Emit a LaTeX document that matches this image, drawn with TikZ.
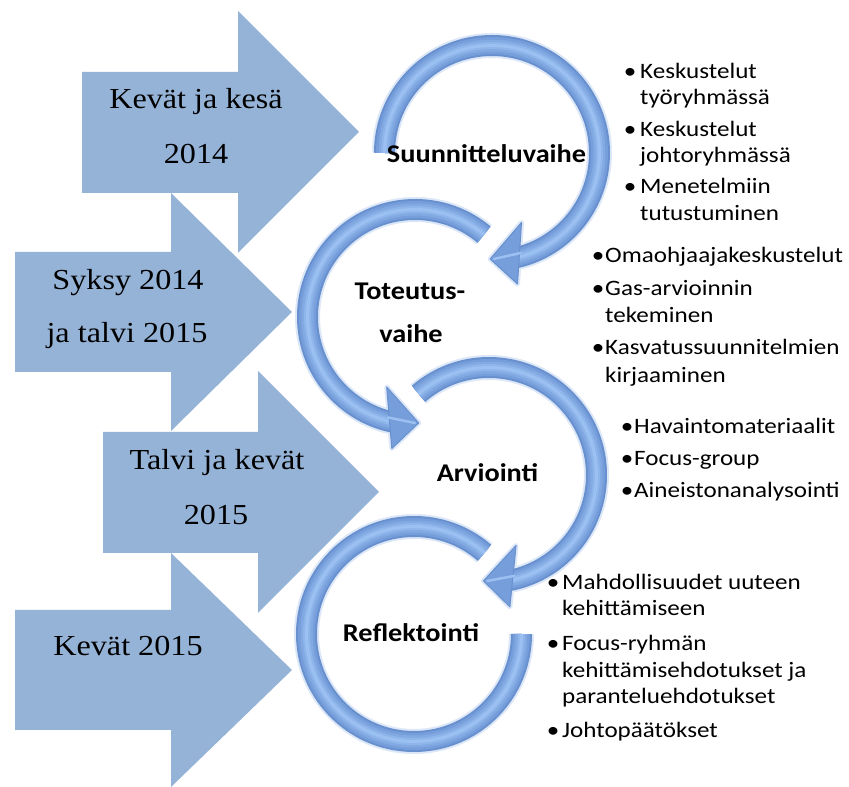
\documentclass[tikz,border=0pt]{standalone}
\usepackage{fontspec}
\newfontfamily\tnrfont{Liberation Serif}[FakeStretch=1.11]
\newfontfamily\calfont{Carlito}[FakeStretch=1.14]
\newfontfamily\calbfont{Carlito}[FakeStretch=1.11]
\definecolor{blkblue}{HTML}{95B3D7}
\definecolor{ringglow}{HTML}{DCE7F7}
\definecolor{ringedge}{HTML}{6890CF}
\definecolor{ringmidA}{HTML}{769EDA}
\definecolor{ringmid}{HTML}{82A9E2}
\definecolor{ringlight}{HTML}{8FB6EB}
\definecolor{ringlightB}{HTML}{9BC0F1}
\tikzset{
  blk/.style={fill=blkblue, draw=none},
  yr/.style={anchor=base, font=\tnrfont\fontsize{29}{34}\selectfont, inner sep=0pt},
  phase/.style={anchor=base, font=\calbfont\bfseries\fontsize{25.5}{30}\selectfont, inner sep=0pt},
  bul/.style={anchor=base, font=\calfont\fontsize{22}{26}\selectfont, inner sep=0pt},
  btx/.style={anchor=base west, font=\calfont\fontsize{22}{26}\selectfont, inner sep=0pt},
  headfill/.style={fill=ringmidA, draw=ringedge, line width=1pt, line join=round},
  headglow/.style={draw=ringglow, line width=5pt, line join=round},
  ridge/.style={draw=ringlightB, line width=2.5pt, line cap=round},
}
\newcommand\myring[3]{%
  \draw[line width=25pt, ringglow] ([shift={(#2:107.5pt)}]#1) arc[start angle=#2, end angle=#3, radius=107.5pt];
  \draw[line width=21pt, ringedge] ([shift={(#2:107.5pt)}]#1) arc[start angle=#2, end angle=#3, radius=107.5pt];
  \draw[line width=17pt, ringmidA] ([shift={(#2:107.5pt)}]#1) arc[start angle=#2, end angle=#3, radius=107.5pt];
  \draw[line width=12pt, ringmid] ([shift={(#2:107.5pt)}]#1) arc[start angle=#2, end angle=#3, radius=107.5pt];
  \draw[line width=7pt, ringlight] ([shift={(#2:107.5pt)}]#1) arc[start angle=#2, end angle=#3, radius=107.5pt];
  \draw[line width=3pt, ringlightB] ([shift={(#2:107.5pt)}]#1) arc[start angle=#2, end angle=#3, radius=107.5pt];
}
\newcommand\myheadpath[4]{([shift={(#3:75.5pt)}]#1) -- ([shift={(#2:106pt)}]#1) -- ([shift={(#4:133.5pt)}]#1) -- cycle}
\begin{document}
\begin{tikzpicture}[x=1pt,y=1pt]
\useasboundingbox (0,0) rectangle (849,787);
\fill[white] (0,0) rectangle (849,787);
% block arrows
\fill[blk] (82,715) -- (238,715) -- (238,776) -- (359,655) -- (238,534) -- (238,594) -- (82,594) -- cycle;
\fill[blk] (15,535) -- (171,535) -- (171,594) -- (292,475) -- (171,356) -- (171,415) -- (15,415) -- cycle;
\fill[blk] (103,355) -- (258,355) -- (258,416) -- (379,295) -- (258,174) -- (258,234) -- (103,234) -- cycle;
\fill[blk] (15,177) -- (171,177) -- (171,234) -- (292,117) -- (171,0) -- (171,57) -- (15,57) -- cycle;
% arrow texts
\node[yr] (t1a) at (196,678) {Kevät ja kesä};
\node[yr] (t1b) at (196,623) {2014};
\node[yr] (t2a) at (128,497) {Syksy 2014};
\node[yr] (t2b) at (127,444) {ja talvi 2015};
\node[yr] (t3a) at (217,317) {Talvi ja kevät};
\node[yr] (t3b) at (216,262) {2015};
\node[yr] (t4a) at (128,131) {Kevät 2015};
% ring centres
\coordinate (c1) at (492,634);
\coordinate (c2) at (415,470);
\coordinate (c3) at (489,312);
\coordinate (c4) at (414,153);
% ring 1
\draw[headglow] \myheadpath{c1}{-91}{-67}{-79};
\myring{c1}{180}{-77}
\filldraw[headfill] \myheadpath{c1}{-91}{-67}{-79};
\draw[ridge] ([shift={(-74:104pt)}]c1) -- ([shift={(-89:106pt)}]c1);
% ring 2
\draw[headglow] \myheadpath{c2}{272}{248}{260};
\myring{c2}{50}{258}
\filldraw[headfill] \myheadpath{c2}{272}{248}{260};
\draw[ridge] ([shift={(255:104pt)}]c2) -- ([shift={(270:106pt)}]c2);
% ring 3
\draw[headglow] \myheadpath{c3}{-93}{-69}{-81};
\myring{c3}{131}{-79}
\filldraw[headfill] \myheadpath{c3}{-93}{-69}{-81};
\draw[ridge] ([shift={(-76:104pt)}]c3) -- ([shift={(-91:106pt)}]c3);
% ring 4
\myring{c4}{49}{360}
% phase labels
\node[phase] (p1) at (486.5,624) {Suunnitteluvaihe};
\node[phase] (p2a) at (410,487) {Toteutus-};
\node[phase] (p2b) at (411,444) {vaihe};
\node[phase] (p3) at (487.5,305) {Arviointi};
\node[phase] (p4) at (411,145) {Reflektointi};
% list 1
\node[bul] (b11) at (630,708) {•};
\node[btx] (l11a) at (640,708) {Keskustelut};
\node[btx] (l11b) at (640,682) {työryhmässä};
\node[bul] (b12) at (630,650) {•};
\node[btx] (l12a) at (640,650) {Keskustelut};
\node[btx] (l12b) at (640,624) {johtoryhmässä};
\node[bul] (b13) at (630,593) {•};
\node[btx] (l13a) at (640,593) {Menetelmiin};
\node[btx] (l13b) at (640,566) {tutustuminen};
% list 2
\node[bul] (b21) at (598,524) {•};
\node[btx] (l21a) at (605,524) {Omaohjaajakeskustelut};
\node[bul] (b22) at (598,491) {•};
\node[btx] (l22a) at (605,491) {Gas-arvioinnin};
\node[btx] (l22b) at (605,464) {tekeminen};
\node[bul] (b23) at (598,432) {•};
\node[btx] (l23a) at (605,432) {Kasvatussuunnitelmien};
\node[btx] (l23b) at (605,404) {kirjaaminen};
% list 3
\node[bul] (b31) at (627,353) {•};
\node[btx] (l31a) at (634,353) {Havaintomateriaalit};
\node[bul] (b32) at (627,321) {•};
\node[btx] (l32a) at (634,321) {Focus-group};
\node[bul] (b33) at (627,289) {•};
\node[btx] (l33a) at (634,289) {Aineistonanalysointi};
% list 4
\node[bul] (b41) at (553,197) {•};
\node[btx] (l41a) at (562,197) {Mahdollisuudet uuteen};
\node[btx] (l41b) at (562,171) {kehittämiseen};
\node[bul] (b42) at (553,136) {•};
\node[btx] (l42a) at (562,136) {Focus-ryhmän};
\node[btx] (l42b) at (562,109) {kehittämisehdotukset ja};
\node[btx] (l42c) at (562,83) {paranteluehdotukset};
\node[bul] (b43) at (553,49) {•};
\node[btx] (l43a) at (562,49) {Johtopäätökset};
\end{tikzpicture}
\end{document}
